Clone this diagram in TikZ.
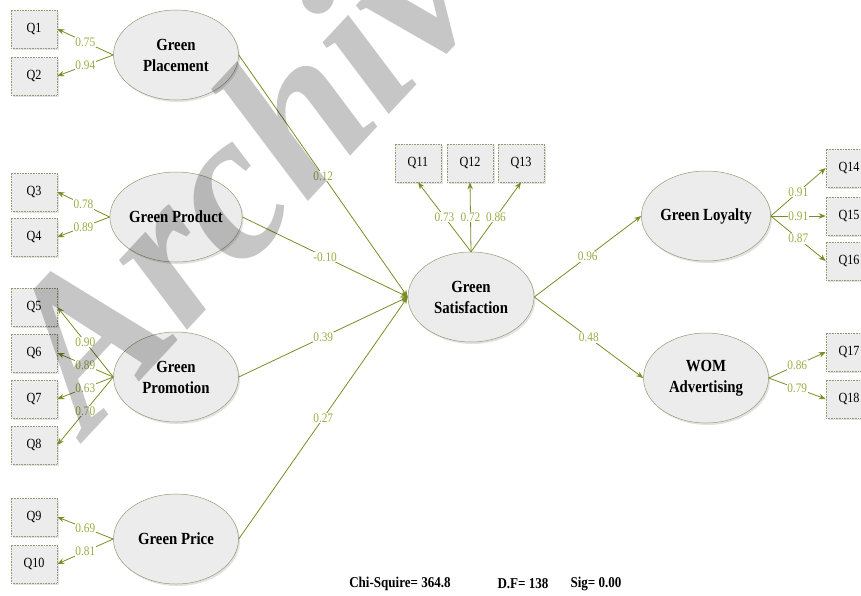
\documentclass[tikz,border=0pt]{standalone}
\usepackage{fontspec}
\setmainfont{Liberation Serif}[FakeStretch=0.87]
\newfontfamily\markfont{Liberation Serif}
\usetikzlibrary{shapes.geometric,shadows,arrows.meta}
\definecolor{pathgreen}{RGB}{122,140,38}
\definecolor{lblgreen}{RGB}{155,172,70}
\definecolor{boxfill}{RGB}{236,236,236}
\definecolor{rimgray}{RGB}{150,155,115}
\tikzset{
  latent/.style={ellipse, draw=rimgray, line width=0.5pt, fill=boxfill,
    minimum width=125pt, minimum height=90pt, inner sep=0pt, align=center,
    font=\fontsize{17}{21}\selectfont\bfseries,
    drop shadow={shadow xshift=1.5pt, shadow yshift=-2pt, fill=gray!45}},
  item/.style={rectangle, draw=rimgray, dash pattern=on 1pt off 0.6pt,
    line width=0.6pt, fill=boxfill, minimum width=46pt, minimum height=38pt,
    font=\fontsize{14}{16}\selectfont,
    drop shadow={shadow xshift=1.5pt, shadow yshift=-2pt, fill=gray!45}},
  link/.style={->, draw=pathgreen, line width=0.8pt},
  lbl/.style={fill=white, text=lblgreen, inner sep=0.6pt,
    font=\fontsize{13}{14}\selectfont},
  stat/.style={font=\fontsize{15}{16}\selectfont\bfseries}
}
\begin{document}
\begin{tikzpicture}[x=1pt, y=-1pt, >={Stealth[length=7pt,width=5.5pt]}]
  \useasboundingbox (0,0) rectangle (861,595);
  \clip (0,0) rectangle (861,595);
  % latent variables
  \node[latent] (place) at (176,55) {Green\\Placement};
  \node[latent] (prod) at (176,217) {Green Product};
  \node[latent] (promo) at (176,377) {Green\\Promotion};
  \node[latent] (price) at (176,539) {Green Price};
  \node[latent, minimum width=126pt] (sat) at (471,297) {Green\\Satisfaction};
  \node[latent] (loyal) at (706,216) {Green Loyalty};
  \node[latent] (wom) at (706,378) {WOM\\Advertising};
  % observed items
  \foreach \n/\y in {1/29, 2/76, 3/192, 4/237, 5/307, 6/353, 7/399, 8/445, 9/517, 10/564}
    \node[item] (q\n) at (34,\y) {Q\n};
  \foreach \n/\x in {11/418, 12/470, 13/521}
    \node[item] (q\n) at (\x,163) {Q\n};
  \foreach \n/\y in {14/168, 15/216, 16/261, 17/352, 18/399}
    \node[item] (q\n) at (849,\y) {Q\n};
  % loadings
  \foreach \f/\q/\v in {place/1/0.75, place/2/0.94, prod/3/0.78, prod/4/0.89,
      promo/5/0.90, promo/6/0.89, promo/7/0.63, promo/8/0.70,
      price/9/0.69, price/10/0.81}
    \draw[link] (\f.west) -- node[lbl] {\v} (q\q.east);
  \foreach \q/\v in {11/0.73, 12/0.72, 13/0.86}
    \draw[link] (sat.north) -- node[lbl] {\v} (q\q.south);
  \foreach \q/\v in {14/0.91, 15/0.91, 16/0.87}
    \draw[link] (loyal.east) -- node[lbl] {\v} (q\q.west);
  \foreach \q/\v in {17/0.86, 18/0.79}
    \draw[link] (wom.east) -- node[lbl] {\v} (q\q.west);
  % structural paths
  \foreach \f/\v in {place/0.12, prod/-0.10, promo/0.39, price/0.27}
    \draw[link] (\f.east) -- node[lbl] {\v} (sat.west);
  \draw[link] (sat.east) -- node[lbl] {0.96} (loyal.west);
  \draw[link] (sat.east) -- node[lbl] {0.48} (wom.west);
  % fit
  \node[stat] (chi) at (400,584) {Chi-Squire= 364.8};
  \node[stat] (df) at (523,584) {D.F= 138};
  \node[stat] (sig) at (596,584) {Sig= 0.00};
  % watermark
  \begin{scope}[blend mode=multiply]
    \node[rotate=47, anchor=base west, inner sep=0pt, text=gray!45,
      font=\markfont\fontsize{212}{212}\selectfont\bfseries\itshape] (mark) at (88,437) {Archive};
  \end{scope}
\end{tikzpicture}
\end{document}
